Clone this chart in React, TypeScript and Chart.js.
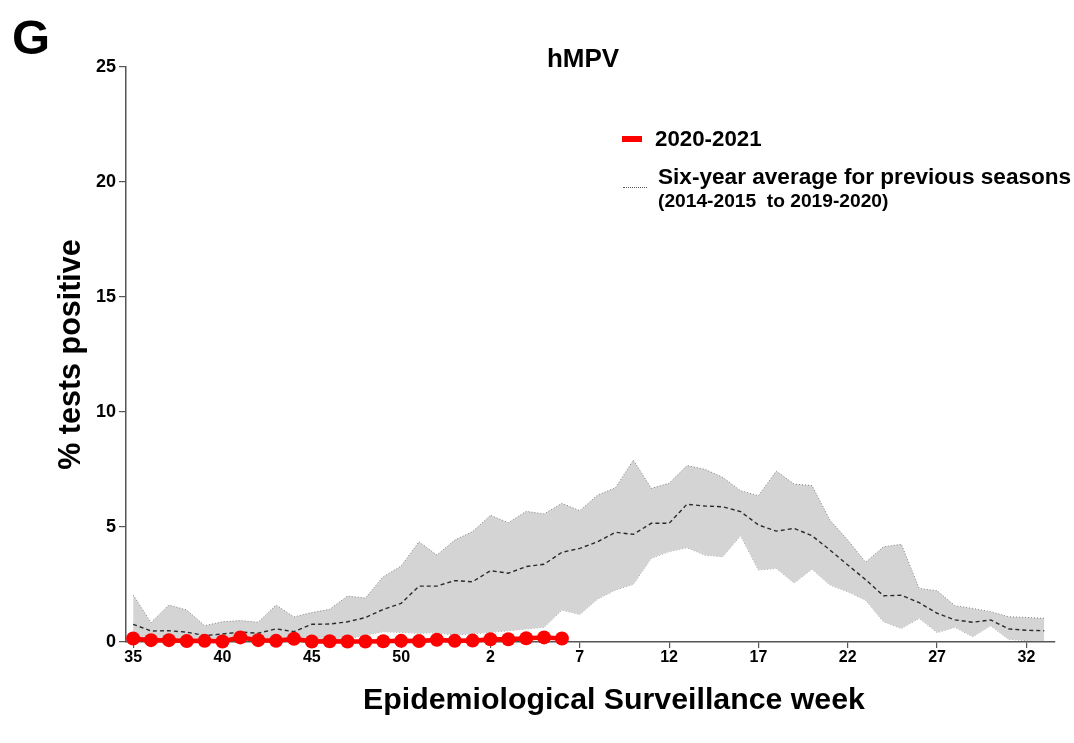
import React, { useEffect, useRef } from "react";
import { Chart, registerables } from "chart.js";

Chart.register(...registerables);

// Epidemiological weeks (season runs from week 35 to week 33 of the next year)
const weekLabels = [
  35, 36, 37, 38, 39, 40, 41, 42, 43, 44, 45, 46, 47, 48, 49, 50, 51, 52, 53,
  1, 2, 3, 4, 5, 6, 7, 8, 9, 10, 11, 12, 13, 14, 15, 16, 17, 18, 19, 20, 21,
  22, 23, 24, 25, 26, 27, 28, 29, 30, 31, 32, 33,
];

// 2020-2021 season (% tests positive), weeks 35 .. 6
const season2020 = [
  0.15, 0.08, 0.08, 0.04, 0.05, 0.02, 0.2, 0.08, 0.05, 0.14, 0.02, 0.03, 0.02,
  0.02, 0.03, 0.05, 0.04, 0.1, 0.05, 0.06, 0.12, 0.12, 0.16, 0.2, 0.15,
];

// Six-year average for previous seasons
const avgMean = [
  0.77, 0.48, 0.49, 0.43, 0.28, 0.35, 0.43, 0.38, 0.57, 0.45, 0.77, 0.78, 0.88,
  1.06, 1.42, 1.68, 2.43, 2.43, 2.67, 2.62, 3.1, 2.99, 3.28, 3.38, 3.9, 4.07,
  4.36, 4.77, 4.68, 5.16, 5.16, 5.99, 5.91, 5.88, 5.67, 5.09, 4.82, 4.94, 4.62,
  4.0, 3.35, 2.71, 2.01, 2.03, 1.71, 1.25, 0.96, 0.86, 0.96, 0.57, 0.51, 0.49,
];

// Upper and lower bounds of the shaded range
const avgUpper = [
  2.05, 0.84, 1.61, 1.39, 0.71, 0.88, 0.93, 0.86, 1.61, 1.09, 1.28, 1.42, 2.0,
  1.91, 2.84, 3.3, 4.36, 3.78, 4.43, 4.8, 5.51, 5.19, 5.68, 5.57, 6.03, 5.71,
  6.39, 6.71, 7.91, 6.68, 6.9, 7.67, 7.51, 7.16, 6.58, 6.36, 7.43, 6.87, 6.8,
  5.3, 4.43, 3.47, 4.14, 4.25, 2.33, 2.23, 1.58, 1.46, 1.32, 1.1, 1.07, 1.03,
];

const avgLower = [
  0.1, 0.05, 0.05, 0.05, 0.0, 0.05, 0.05, 0.05, 0.05, 0.05, 0.05, 0.1, 0.13,
  0.3, 0.45, 0.42, 0.38, 0.41, 0.3, 0.36, 0.42, 0.49, 0.57, 0.64, 1.39, 1.2,
  1.87, 2.26, 2.51, 3.64, 3.93, 4.1, 3.78, 3.71, 4.62, 3.13, 3.2, 2.57, 3.17,
  2.48, 2.19, 1.82, 0.88, 0.59, 1.03, 0.41, 0.64, 0.23, 0.71, 0.12, 0.06, 0.04,
];

const xTickIndices = [0, 5, 10, 15, 20, 25, 30, 35, 40, 45, 50];
const yTicks = [0, 5, 10, 15, 20, 25];

const FONT = '"Liberation Sans", Arial, Helvetica, sans-serif';

function Label(props: {
  x: number;
  y: number;
  size: number;
  text: string;
  align?: "left" | "center";
}) {
  const { x, y, size, text, align = "center" } = props;
  return (
    <div
      style={{
        position: "absolute",
        left: x,
        top: y,
        transform: align === "center" ? "translate(-50%, -50%)" : "translate(0, -50%)",
        fontFamily: FONT,
        fontWeight: "bold",
        fontSize: size,
        lineHeight: 1,
        whiteSpace: "pre",
        color: "#000",
      }}
    >
      {text}
    </div>
  );
}

export default function App() {
  const canvasRef = useRef<HTMLCanvasElement>(null);

  useEffect(() => {
    const canvas = canvasRef.current;
    if (!canvas) return;
    const toPts = (arr: number[]) => arr.map((v, i) => ({ x: i, y: v }));

    const chart = new Chart(canvas, {
      type: "line",
      data: {
        datasets: [
          {
            label: "2020-2021",
            data: toPts(season2020),
            borderColor: "#ff0000",
            backgroundColor: "#ff0000",
            borderWidth: 4.5,
            pointRadius: 7,
            pointBackgroundColor: "#ff0000",
            pointBorderWidth: 0,
            fill: false,
            tension: 0,
            clip: false,
          } as any,
          {
            label: "mean",
            data: toPts(avgMean),
            borderColor: "#2a2a2a",
            borderWidth: 1.4,
            borderDash: [4, 3],
            pointRadius: 0,
            fill: false,
            tension: 0,
          },
          {
            label: "upper",
            data: toPts(avgUpper),
            borderColor: "#808080",
            borderWidth: 1,
            borderDash: [1, 2],
            pointRadius: 0,
            fill: "+1",
            backgroundColor: "#d4d4d4",
            tension: 0,
          },
          {
            label: "lower",
            data: toPts(avgLower),
            borderColor: "#808080",
            borderWidth: 1,
            borderDash: [1, 2],
            pointRadius: 0,
            fill: false,
            tension: 0,
          },
        ],
      },
      options: {
        responsive: false,
        animation: false,
        events: [],
        layout: { padding: { left: 0, right: 19, top: 67, bottom: 0 } },
        plugins: {
          legend: { display: false },
          tooltip: { enabled: false },
        },
        scales: {
          x: {
            type: "linear",
            min: -0.4,
            max: 51.6,
            afterBuildTicks: (axis: any) => {
              axis.ticks = xTickIndices.map((v) => ({ value: v }));
            },
            afterFit: (s: any) => {
              s.height = 101;
            },
            ticks: {
              callback: (v: any) => String(weekLabels[Math.round(Number(v))]),
              font: { family: FONT, size: 16, weight: "bold" },
              color: "#000",
              padding: 0,
              maxRotation: 0,
              autoSkip: false,
            },
            grid: { drawOnChartArea: false, tickLength: 6, color: "#555", lineWidth: 1.2 },
            border: { color: "#555", width: 1.5 },
          },
          y: {
            type: "linear",
            min: 0,
            max: 25,
            afterBuildTicks: (axis: any) => {
              axis.ticks = yTicks.map((v) => ({ value: v }));
            },
            afterFit: (s: any) => {
              s.width = 126;
            },
            ticks: {
              font: { family: FONT, size: 18, weight: "bold" },
              color: "#000",
              padding: 3,
            },
            grid: { drawOnChartArea: false, tickLength: 7, color: "#555", lineWidth: 1.2 },
            border: { color: "#555", width: 1.5 },
            title: {
              display: true,
              text: "% tests positive",
              font: { family: FONT, size: 30.5, weight: "bold" },
              color: "#000",
              padding: { top: 53, bottom: 0 },
            },
          },
        },
      },
    } as any);

    return () => chart.destroy();
  }, []);

  return (
    <div
      style={{
        position: "fixed",
        left: 0,
        top: 0,
        width: 1074,
        height: 743,
        background: "#fff",
        overflow: "hidden",
      }}
    >
      <canvas
        ref={canvasRef}
        width={1074}
        height={743}
        style={{ position: "absolute", left: 0, top: 0, width: 1074, height: 743 }}
      />
      <Label x={31} y={37} size={49} text="G" />
      <Label x={583} y={58} size={26} text="hMPV" />
      <Label x={614} y={699} size={30.3} text="Epidemiological Surveillance week" />
      {/* Legend */}
      <div
        style={{
          position: "absolute",
          left: 622,
          top: 136,
          width: 20,
          height: 6,
          background: "#ff0000",
        }}
      />
      <div
        style={{
          position: "absolute",
          left: 623,
          top: 187,
          width: 24,
          height: 0,
          borderTop: "1px dotted #555",
        }}
      />
      <Label x={655} y={139} size={22.3} text="2020-2021" align="left" />
      <Label x={658} y={177} size={22.6} text="Six-year average for previous seasons" align="left" />
      <Label x={658} y={201} size={19.2} text="(2014-2015  to 2019-2020)" align="left" />
    </div>
  );
}
